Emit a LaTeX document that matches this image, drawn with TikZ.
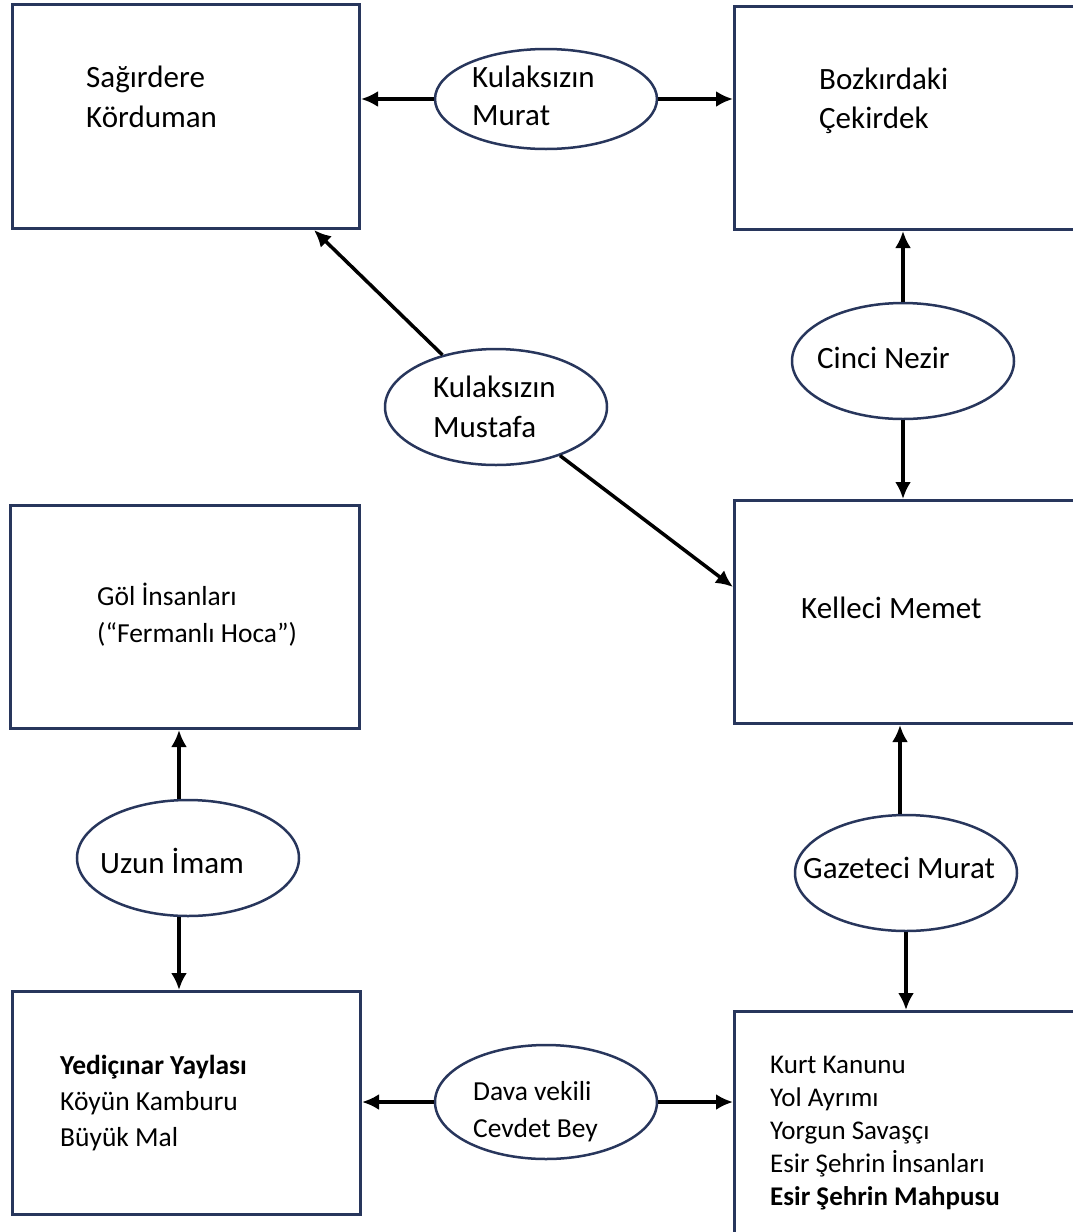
\documentclass[tikz,border=0pt]{standalone}
\usepackage{fontspec}
\setmainfont{Carlito}
\usetikzlibrary{positioning,arrows.meta,shapes.geometric}
\definecolor{navy}{RGB}{40,54,92}
\tikzset{
  block/.style={
    draw=navy,
    line width=3pt,
    rectangle,
    anchor=north west,
    inner sep=0pt
  },
  oval/.style={
    draw=navy,
    line width=2.5pt,
    ellipse,
    minimum width=222pt,
    minimum height=116pt,
    inner sep=0pt
  },
  big/.style={font=\fontsize{31}{40}\selectfont, anchor=base west, inner sep=0pt, align=left},
  small/.style={font=\fontsize{27.5}{36}\selectfont, anchor=base west, inner sep=0pt, align=left},
  line/.style={-{Latex[length=17pt,width=16pt]}, line width=3.5pt}
}
\begin{document}
\begin{tikzpicture}[x=1pt,y=-1pt]

				\useasboundingbox (0,0) rectangle (1073,1232);

				\node[block, minimum width=347pt, minimum height=224pt] (sag) at (11,3) {};
				\node[block, minimum width=360pt, minimum height=223pt] (boz) at (733,5) {};
				\node[block, minimum width=349pt, minimum height=223pt] (gol) at (9,504) {};
				\node[block, minimum width=360pt, minimum height=223pt] (kel) at (733,499) {};
				\node[block, minimum width=348pt, minimum height=223pt] (yed) at (11,990) {};
				\node[block, minimum width=360pt, minimum height=240pt] (kur) at (733,1010) {};

				\node[oval, minimum height=100pt] (mur) at (546,99) {};
				\node[oval] (cin) at (903,361) {};
				\node[oval] (mus) at (496,407) {};
				\node[oval] (uzu) at (188,858) {};
				\node[oval] (gaz) at (906,873) {};
				\node[oval, minimum height=114pt] (dav) at (546,1102) {};

				% base west = baseline of the last line
				\node[big] (t1) at (86,127) {Sağırdere\\Körduman};
				\node[big, font=\fontsize{31}{39}\selectfont] (t2) at (819,128) {Bozkırdaki\\Çekirdek};
				\node[big, font=\fontsize{31}{38}\selectfont] (t3) at (472,125) {Kulaksızın\\Murat};
				\node[big] (t4) at (817,368) {Cinci Nezir};
				\node[big] (t5) at (433,437) {Kulaksızın\\Mustafa};
				\node[small, font=\fontsize{27.5}{37}\selectfont] (t6) at (97,642) {Göl İnsanları\\(“Fermanlı Hoca”)};
				\node[big] (t7) at (801,618) {Kelleci Memet};
				\node[big] (t8) at (100,873) {Uzun İmam};
				\node[big] (t9) at (803,878) {Gazeteci Murat};
				\node[small] (t10) at (60,1146) {\textbf{Yediçınar Yaylası}\\Köyün Kamburu\\Büyük Mal};
				\node[small, font=\fontsize{27.5}{37}\selectfont] (t11) at (473,1137) {Dava vekili\\Cevdet Bey};
				\node[small, font=\fontsize{27}{33}\selectfont] (t12) at (770,1205) {Kurt Kanunu\\Yol Ayrımı\\Yorgun Savaşçı\\Esir Şehrin İnsanları\\\textbf{Esir Şehrin Mahpusu}};

				\draw[line] (mur.west) -- (mur.west -| sag.east);
				\draw[line] (mur.east) -- (mur.east -| boz.west);

				\draw[line] (cin.north) -- (cin.north |- boz.south);
				\draw[line] (cin.south) -- (cin.south |- kel.north);

				\draw[line] (mus) -- ([xshift=-47pt]sag.south east);
				\draw[line] (mus) -- ([yshift=-88pt]kel.north west);

				\draw[line] ([xshift=-9pt]uzu.north) -- ([xshift=-9pt]uzu.north |- gol.south);
				\draw[line] ([xshift=-9pt]uzu.south) -- ([xshift=-9pt]uzu.south |- yed.north);

				\draw[line] ([xshift=-6pt]gaz.north) -- ([xshift=-6pt]gaz.north |- kel.south);
				\draw[line] (gaz.south) -- (gaz.south |- kur.north);

				\draw[line] (dav.west) -- (dav.west -| yed.east);
				\draw[line] (dav.east) -- (dav.east -| kur.west);

\end{tikzpicture}
\end{document}
